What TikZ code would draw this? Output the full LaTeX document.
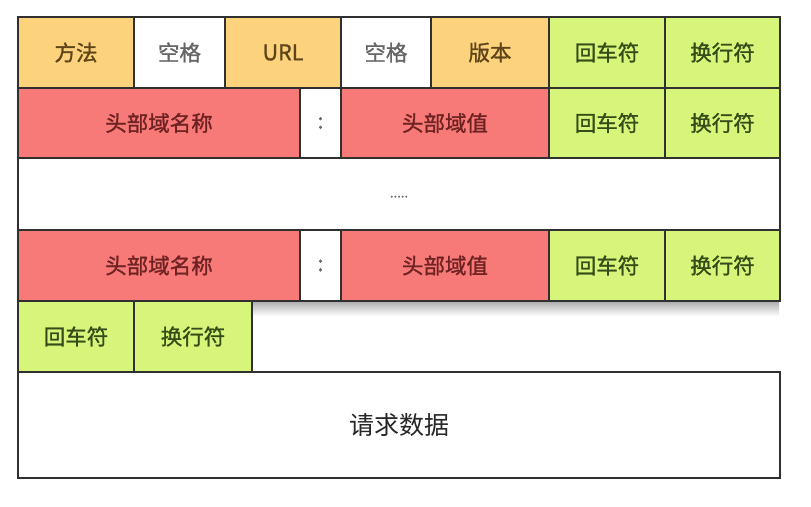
\documentclass[tikz,border=0pt]{standalone}
\usepackage{fontspec}
\newfontfamily\cjk[RawFeature={embolden=1.2}]{Noto Sans CJK SC}
\newfontfamily\cjkplain{Noto Sans CJK SC}
\definecolor{orfill}{HTML}{FDD27C}
\definecolor{rdfill}{HTML}{F87A78}
\definecolor{grfill}{HTML}{D8F57B}
\definecolor{ortext}{HTML}{5E4418}
\definecolor{rdtext}{HTML}{6E2222}
\definecolor{grtext}{HTML}{344D18}
\definecolor{edge}{HTML}{303030}
\tikzset{
  cellbox/.style={draw=edge, line width=2pt, anchor=north west, inner sep=0pt,
    font=\cjk\fontsize{21.5}{22}\selectfont},
  orcell/.style={cellbox, fill=orfill, text=ortext},
  rdcell/.style={cellbox, fill=rdfill, text=rdtext},
  grcell/.style={cellbox, fill=grfill, text=grtext},
  whcell/.style={cellbox, fill=white, text=black!60},
}
\newcommand{\mycell}[7]{%
  \node[#6, minimum width={(#4-#2)*1pt}, minimum height={(#5-#3)*1pt}] (#1) at (#2pt,-#3pt) {#7};}
\begin{document}
\begin{tikzpicture}
\useasboundingbox (0pt,0pt) rectangle (811pt,-506pt);
\fill[white] (0pt,0pt) rectangle (811pt,-506pt);
% shadow under header block
\shade[top color=black!35, bottom color=white] (251pt,-300pt) rectangle (779pt,-316pt);
% row 1
\mycell{m}{17}{16}{133}{87}{orcell}{方法}
\mycell{s1}{133}{16}{224}{87}{whcell}{空格}
\mycell{url}{224}{16}{340}{87}{orcell}{URL}
\mycell{s2}{340}{16}{430}{87}{whcell}{空格}
\mycell{ver}{430}{16}{548}{87}{orcell}{版本}
\mycell{cr1}{548}{16}{664}{87}{grcell}{回车符}
\mycell{lf1}{664}{16}{779}{87}{grcell}{换行符}
% row 2
\mycell{hn1}{17}{87}{299}{157}{rdcell}{头部域名称}
\mycell{c1}{299}{87}{340}{157}{whcell}{:}
\mycell{hv1}{340}{87}{548}{157}{rdcell}{头部域值}
\mycell{cr2}{548}{87}{664}{157}{grcell}{回车符}
\mycell{lf2}{664}{87}{779}{157}{grcell}{换行符}
% row 3
\mycell{dots}{17}{157}{779}{229}{whcell}{\fontsize{13}{13}\selectfont\raisebox{-7pt}{.....}}
% row 4
\mycell{hn2}{17}{229}{299}{300}{rdcell}{头部域名称}
\mycell{c2}{299}{229}{340}{300}{whcell}{:}
\mycell{hv2}{340}{229}{548}{300}{rdcell}{头部域值}
\mycell{cr3}{548}{229}{664}{300}{grcell}{回车符}
\mycell{lf3}{664}{229}{779}{300}{grcell}{换行符}
% row 5
\mycell{cr4}{17}{300}{133}{371}{grcell}{回车符}
\mycell{lf4}{133}{300}{251}{371}{grcell}{换行符}
% body
\mycell{body}{17}{371}{779}{477}{whcell}{\cjkplain\fontsize{25}{25}\selectfont\color{black!85}请求数据}
\end{tikzpicture}
\end{document}
